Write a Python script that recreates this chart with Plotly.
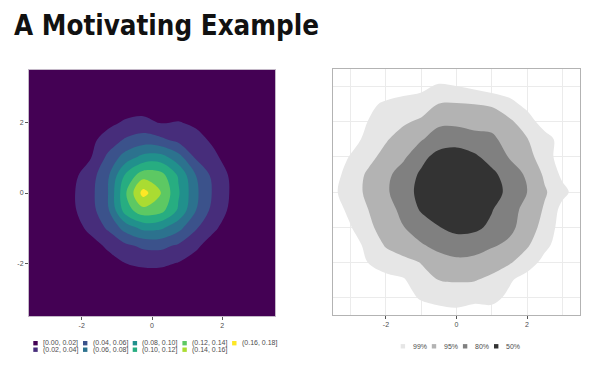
import numpy as np
import plotly.graph_objects as go

# ------------------------------------------------------------------
# Left panel: 2-D density estimate (grid values)
# ------------------------------------------------------------------
dens_x = [-3.75, -3.25, -2.75, -2.25, -1.75, -1.25, -0.75, -0.25,
          0.25, 0.75, 1.25, 1.75, 2.25, 2.75, 3.25, 3.75]
dens_y = [-3.5, -3.0, -2.5, -2.0, -1.5, -1.0, -0.5, 0.0,
          0.5, 1.0, 1.5, 2.0, 2.5, 3.0, 3.5]
density = [  # rows follow dens_y (bottom to top)
    [0, 0, 0.0001, 0.0001, 0.0002, 0.0003, 0.0005, 0.0005, 0.0005, 0.0005, 0.0003, 0.0002, 0.0001, 0.0001, 0, 0],
    [0, 0.0001, 0.0002, 0.0004, 0.0008, 0.0015, 0.002, 0.0022, 0.0022, 0.002, 0.0015, 0.0008, 0.0004, 0.0002, 0.0001, 0],
    [0.00005, 0.0002, 0.0005, 0.0012, 0.0025, 0.005, 0.007, 0.0075, 0.0075, 0.007, 0.005, 0.0025, 0.0012, 0.0005, 0.0002, 0.00005],
    [0.0001, 0.0004, 0.001, 0.003, 0.007, 0.013, 0.020, 0.024, 0.024, 0.019, 0.013, 0.007, 0.003, 0.001, 0.0004, 0.0001],
    [0.0002, 0.0008, 0.0025, 0.006, 0.013, 0.023, 0.036, 0.044, 0.045, 0.037, 0.023, 0.012, 0.006, 0.002, 0.0007, 0.0002],
    [0.0003, 0.0015, 0.005, 0.012, 0.0245, 0.043, 0.068, 0.085, 0.083, 0.066, 0.042, 0.023, 0.011, 0.004, 0.0013, 0.0003],
    [0.0005, 0.002, 0.007, 0.017, 0.032, 0.057, 0.110, 0.133, 0.127, 0.097, 0.060, 0.033, 0.016, 0.006, 0.002, 0.0005],
    [0.0005, 0.002, 0.007, 0.018, 0.0337, 0.060, 0.118, 0.168, 0.141, 0.1026, 0.064, 0.0373, 0.018, 0.007, 0.002, 0.0005],
    [0.0005, 0.002, 0.006, 0.015, 0.031, 0.057, 0.104, 0.132, 0.128, 0.098, 0.060, 0.0345, 0.017, 0.006, 0.002, 0.0005],
    [0.0003, 0.0015, 0.004, 0.010, 0.019, 0.045, 0.070, 0.088, 0.090, 0.069, 0.038, 0.024, 0.012, 0.005, 0.0015, 0.0003],
    [0.0002, 0.001, 0.003, 0.007, 0.015, 0.029, 0.043, 0.050, 0.045, 0.035, 0.026, 0.017, 0.009, 0.004, 0.001, 0.0002],
    [0.0001, 0.0005, 0.0015, 0.004, 0.008, 0.015, 0.023, 0.026, 0.019, 0.021, 0.017, 0.010, 0.005, 0.002, 0.0005, 0.0001],
    [0.00005, 0.0002, 0.0006, 0.0015, 0.003, 0.006, 0.009, 0.010, 0.008, 0.008, 0.006, 0.004, 0.002, 0.0007, 0.0002, 0.00005],
    [0, 0.0001, 0.0002, 0.0005, 0.001, 0.002, 0.003, 0.003, 0.003, 0.003, 0.002, 0.0013, 0.0006, 0.0002, 0.0001, 0],
    [0, 0, 0.0001, 0.0001, 0.0003, 0.0005, 0.0007, 0.0008, 0.0008, 0.0007, 0.0005, 0.0003, 0.0001, 0.0001, 0, 0],
]
dens_breaks = [0.00, 0.02, 0.04, 0.06, 0.08, 0.10, 0.12, 0.14, 0.16, 0.18]
dens_labels = ["[0.00, 0.02]", "(0.02, 0.04]", "(0.04, 0.06]", "(0.06, 0.08]",
               "(0.08, 0.10]", "(0.10, 0.12]", "(0.12, 0.14]", "(0.14, 0.16]",
               "(0.16, 0.18]"]
dens_colors = ["#440154", "#472D7B", "#3B528B", "#2C728E", "#21908C",
               "#27AD81", "#5DC863", "#AADC32", "#FDE725"]

# ------------------------------------------------------------------
# Right panel: highest density regions (coverage %)
# ------------------------------------------------------------------
hdr_x = [-3.5, -3.0, -2.5, -2.0, -1.5, -1.0, -0.5, 0.0, 0.5, 1.0, 1.5, 2.0, 2.5, 3.0, 3.5]
hdr_y = [-3.5, -3.0, -2.5, -2.0, -1.5, -1.0, -0.5, 0.0, 0.5, 1.0, 1.5, 2.0, 2.5, 3.0, 3.5]
hdr_coverage = [  # rows follow hdr_y (bottom to top)
    [100, 100, 100, 99.9, 99.8, 99.6, 99.4, 99.3, 99.4, 99.4, 99.6, 99.8, 99.9, 100, 100],
    [100, 100, 99.9, 99.7, 99.4, 98.5, 97.7, 97.4, 98.1, 97.9, 99.2, 99.6, 99.8, 99.9, 100],
    [100, 99.9, 99.5, 99.3, 99.1, 96.2, 94.8, 93.7, 94.0, 96.0, 98.5, 99.4, 99.7, 99.9, 100],
    [99.9, 99.7, 98.9, 97.1, 96.1, 94.5, 85.3, 83.0, 84.0, 88.2, 93.4, 97.1, 99.3, 99.7, 99.9],
    [99.8, 99.5, 97.8, 93.5, 88.0, 81.0, 71.5, 64.3, 66.6, 76.0, 82.7, 93.1, 98.0, 99.5, 99.9],
    [99.7, 99.05, 95.9, 88.8, 80.3, 65.7, 51.0, 42.0, 44.0, 56.1, 72.3, 86.6, 96.7, 99.4, 99.8],
    [99.5, 97.9, 95.0, 85.9, 71.3, 47.0, 32.0, 21.0, 28.0, 48.5, 68.3, 84.5, 95.5, 99.3, 99.8],
    [99.2, 96.9, 92.0, 82.0, 63.1, 42.0, 21.0, 2.0, 19.0, 38.0, 58.3, 80.0, 93.4, 97.9, 99.5],
    [99.4, 97.3, 92.8, 83.5, 66.1, 46.0, 28.0, 19.0, 28.0, 44.0, 63.2, 82.2, 95.7, 99.2, 99.8],
    [99.6, 98.7, 96.2, 90.5, 82.3, 58.4, 40.8, 38.5, 45.4, 61.5, 80.9, 90.2, 97.1, 99.5, 99.9],
    [99.7, 99.4, 97.9, 95.4, 88.7, 81.1, 66.0, 61.3, 69.0, 74.0, 85.6, 94.4, 97.4, 99.4, 99.8],
    [99.8, 99.6, 98.9, 97.3, 95.6, 92.3, 82.9, 83.3, 85.1, 84.8, 92.5, 97.1, 99.5, 99.8, 99.9],
    [99.9, 99.8, 99.2, 98.4, 97.7, 97.5, 94.6, 94.0, 95.0, 95.6, 97.7, 99.3, 99.7, 99.9, 100],
    [99.9, 99.9, 99.8, 99.6, 99.4, 99.2, 98.5, 98.9, 99.2, 99.5, 99.6, 99.8, 99.9, 100, 100],
    [100, 100, 100, 99.9, 99.9, 99.8, 99.7, 99.6, 99.7, 99.8, 99.9, 100, 100, 100, 100],
]
hdr_levels = [99, 95, 80, 50]
hdr_labels = ["99%", "95%", "80%", "50%"]
hdr_colors = ["#E6E6E6", "#B3B3B3", "#808080", "#333333"]

major_ticks = [-2, 0, 2]
major_tick_labels = ["-2", "0", "2"]
minor_ticks = [-3, -1, 1, 3]
title_text = "A Motivating Example"

# ------------------------------------------------------------------
W, H = 600, 365
OFF = 8  # the page body adds an 8px offset; positions below are window pixels
def px(x):
    return (x - OFF) / W
def py(y):
    return 1 - (y - OFF) / H

FONT = "Liberation Sans, Arial, Helvetica, sans-serif"
TICK_COL = "#4d4d4d"

fig = go.Figure()

# left: stacked filled regions above each break
# (plotly shades the region *excluded* by a constraint, so '<' shades z > value)
for brk, col in zip(dens_breaks[1:-1], dens_colors[1:]):
    fig.add_trace(go.Contour(
        x=dens_x, y=dens_y, z=density,
        contours=dict(type="constraint", operation="<", value=brk),
        fillcolor=col, line=dict(width=0, color=col, smoothing=1.0),
        showscale=False, showlegend=False, hoverinfo="skip",
        xaxis="x", yaxis="y"))

# right: HDR regions; coverage mapped to an equivalent normal radius so that
# the linear interpolation of the contour algorithm is even across bands
knot_p = [0] + sorted(hdr_levels) + [100]
knot_r = [0] + [float(np.sqrt(-2 * np.log(1 - p / 100))) for p in sorted(hdr_levels)] + [3.6]
hdr_rho = np.interp(np.array(hdr_coverage, dtype=float), knot_p, knot_r)
for lev, col in zip(hdr_levels, hdr_colors):
    cut = float(np.interp(lev, knot_p, knot_r))
    fig.add_trace(go.Contour(
        x=hdr_x, y=hdr_y, z=hdr_rho,
        contours=dict(type="constraint", operation=">", value=cut),
        fillcolor=col, line=dict(width=0, color=col, smoothing=1.0),
        showscale=False, showlegend=False, hoverinfo="skip",
        xaxis="x2", yaxis="y2"))

axis_common = dict(range=[-3.5, 3.5], tickvals=major_ticks, ticktext=major_tick_labels,
                   ticklen=3, tickwidth=1, tickcolor="#555555",
                   tickfont=dict(family=FONT, size=7, color=TICK_COL),
                   zeroline=False, showline=True, mirror=True,
                   linewidth=1, fixedrange=True, automargin=False)

fig.update_layout(
    width=W, height=H,
    margin=dict(l=0, r=0, t=0, b=0, autoexpand=False),
    paper_bgcolor="white", plot_bgcolor="white",
    xaxis=dict(domain=[px(29), px(275)], anchor="y", showgrid=False, ticks="outside",
               linecolor="#c4b8c8", **axis_common),
    yaxis=dict(domain=[py(316), py(70)], anchor="x", showgrid=False, ticks="outside",
               linecolor="#c4b8c8", **axis_common),
    xaxis2=dict(domain=[px(333), px(580)], anchor="y2", showgrid=True, ticks="outside",
                gridcolor="#EBEBEB", gridwidth=1, linecolor="#b3b3b3",
                minor=dict(tickvals=minor_ticks, showgrid=True,
                           gridcolor="#EBEBEB", gridwidth=0.6, ticks=""),
                **axis_common),
    yaxis2=dict(domain=[py(315), py(69)], anchor="x2", showgrid=True, ticks="",
                gridcolor="#EBEBEB", gridwidth=1, linecolor="#b3b3b3",
                showticklabels=False,
                minor=dict(tickvals=minor_ticks, showgrid=True,
                           gridcolor="#EBEBEB", gridwidth=0.6, ticks=""),
                **axis_common),
)

shapes = [dict(type="rect", xref="x domain", yref="y domain", x0=0, x1=1,
               y0=0, y1=1, fillcolor=dens_colors[0], line=dict(width=0),
               layer="below")]
annotations = [dict(text="<b>" + title_text + "</b>", xref="paper", yref="paper",
                    x=px(12), y=py(25), xanchor="left", yanchor="middle",
                    showarrow=False,
                    font=dict(family="DejaVu Sans Condensed, Liberation Sans Narrow, sans-serif",
                              size=27.5, color="#111111"))]

# left legend: 2 rows, column-major
sw = 4.4
for i, (lab, col) in enumerate(zip(dens_labels, dens_colors)):
    c, r = divmod(i, 2)
    left = 33.3 + 49.7 * c
    cy = 343.2 + 6.5 * r
    shapes.append(dict(type="rect", xref="paper", yref="paper",
                       x0=px(left), x1=px(left + sw), y0=py(cy + sw / 2), y1=py(cy - sw / 2),
                       fillcolor=col, line=dict(width=0)))
    annotations.append(dict(text=lab, xref="paper", yref="paper",
                            x=px(left + 7.5), y=py(cy), xanchor="left", yanchor="middle",
                            showarrow=False, font=dict(family=FONT, size=7, color=TICK_COL)))

# right legend: one row
for i, (lab, col) in enumerate(zip(hdr_labels, hdr_colors)):
    left = 400.7 + 31.1 * i
    cy = 346.3
    shapes.append(dict(type="rect", xref="paper", yref="paper",
                       x0=px(left), x1=px(left + sw), y0=py(cy + sw / 2), y1=py(cy - sw / 2),
                       fillcolor=col, line=dict(width=0)))
    annotations.append(dict(text=lab, xref="paper", yref="paper",
                            x=px(left + 10), y=py(cy), xanchor="left", yanchor="middle",
                            showarrow=False, font=dict(family=FONT, size=7, color=TICK_COL)))

fig.update_layout(shapes=shapes, annotations=annotations)
fig.write_html("out.html")
